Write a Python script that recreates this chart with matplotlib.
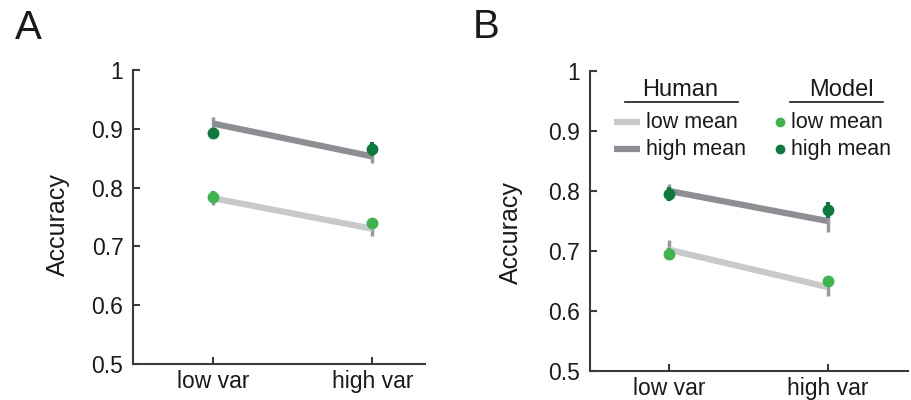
import numpy as np
import matplotlib
matplotlib.use("Agg")
import matplotlib.pyplot as plt

plt.rcParams['font.family'] = ['Liberation Sans', 'DejaVu Sans']

conds = ["low var", "high var"]
xpos = [1, 2]

# panel A
humA_low = [0.782, 0.730]
humA_low_err = [0.012, 0.013]
humA_high = [0.909, 0.853]
humA_high_err = [0.011, 0.012]
modA_low = [0.784, 0.740]
modA_low_err = [0.010, 0.009]
modA_high = [0.893, 0.866]
modA_high_err = [0.008, 0.012]

# panel B
humB_low = [0.702, 0.640]
humB_low_err = [0.016, 0.015]
humB_high = [0.800, 0.750]
humB_high_err = [0.012, 0.018]
modB_low = [0.695, 0.650]
modB_low_err = [0.010, 0.008]
modB_high = [0.795, 0.768]
modB_high_err = [0.011, 0.013]

c_hlow = "#c9c9cb"
c_hhigh = "#8d8e93"
c_herr = "#9a9a9e"
c_mlow = "#3db54a"
c_mhigh = "#0b7a3c"
spc = "#3a3a3a"
txt = "#1a1a1a"

fig = plt.figure(figsize=(9.12, 4), dpi=100)
axA = fig.add_axes([0.146, 0.09, 0.320, 0.735])
axB = fig.add_axes([0.647, 0.0725, 0.349, 0.75])


def draw(ax, hl, hle, hh, hhe, ml, mle, mh, mhe, xr, ylab_pos):
    for v, e, c in [(hl, hle, c_hlow), (hh, hhe, c_hhigh)]:
        ax.errorbar(xpos, v, yerr=e, fmt="none", ecolor=c_herr, elinewidth=2.5,
                    capsize=0, zorder=2)
        ax.plot(xpos, v, color=c, lw=4.5, solid_capstyle="butt", zorder=3)
    for v, e, c in [(ml, mle, c_mlow), (mh, mhe, c_mhigh)]:
        ax.errorbar(xpos, v, yerr=e, fmt="o", color=c, ms=7.5, elinewidth=3,
                    capsize=0, zorder=4)
    ax.set_xlim(0.5, xr)
    ax.set_ylim(0.5, 1.0)
    ax.set_xticks(xpos)
    ax.set_xticklabels(conds)
    ax.set_yticks([0.5, 0.6, 0.7, 0.8, 0.9, 1.0])
    ax.set_yticklabels(["0.5", "0.6", "0.7", "0.8", "0.9", "1"])
    ax.spines['top'].set_visible(False)
    ax.spines['right'].set_visible(False)
    for s in ['left', 'bottom']:
        ax.spines[s].set_color(spc)
        ax.spines[s].set_linewidth(1.5)
    ax.tick_params(direction="in", length=5, width=1.5, color=spc,
                   labelsize=16.5, labelcolor=txt)
    ax.tick_params(axis="y", pad=7)
    ax.tick_params(axis="x", pad=4)
    ax.set_ylabel("Accuracy", fontsize=18, color=txt)
    ax.yaxis.set_label_coords(*ylab_pos)


draw(axA, humA_low, humA_low_err, humA_high, humA_high_err,
     modA_low, modA_low_err, modA_high, modA_high_err, 2.33, (-0.216, 0.473))
draw(axB, humB_low, humB_low_err, humB_high, humB_high_err,
     modB_low, modB_low_err, modB_high, modB_high_err, 2.51, (-0.21, 0.463))

fig.text(0.016, 0.902, "A", fontsize=29, color=txt, va="baseline")
fig.text(0.518, 0.905, "B", fontsize=29, color=txt, va="baseline")

# custom legend in panel B
tr = axB.transAxes
axB.text(0.283, 0.915, "Human", transform=tr, fontsize=17, ha="center", va="baseline", color=txt)
axB.plot([0.11, 0.465], [0.897, 0.897], transform=tr, color=txt, lw=1.2)
axB.text(0.79, 0.915, "Model", transform=tr, fontsize=17, ha="center", va="baseline", color=txt)
axB.plot([0.629, 0.921], [0.897, 0.897], transform=tr, color=txt, lw=1.2)
rows = [0.83, 0.74]
for y, c, m, lab in zip(rows, [c_hlow, c_hhigh], [c_mlow, c_mhigh], ["low mean", "high mean"]):
    axB.plot([0.075, 0.157], [y, y], transform=tr, color=c, lw=4.5, solid_capstyle="butt")
    axB.text(0.176, y, lab, transform=tr, fontsize=15.5, va="center", color=txt)
    axB.plot([0.597], [y], transform=tr, marker="o", ms=6, color=m, ls="none")
    axB.text(0.632, y, lab, transform=tr, fontsize=15.5, va="center", color=txt)

fig.savefig("out.png", dpi=100)
